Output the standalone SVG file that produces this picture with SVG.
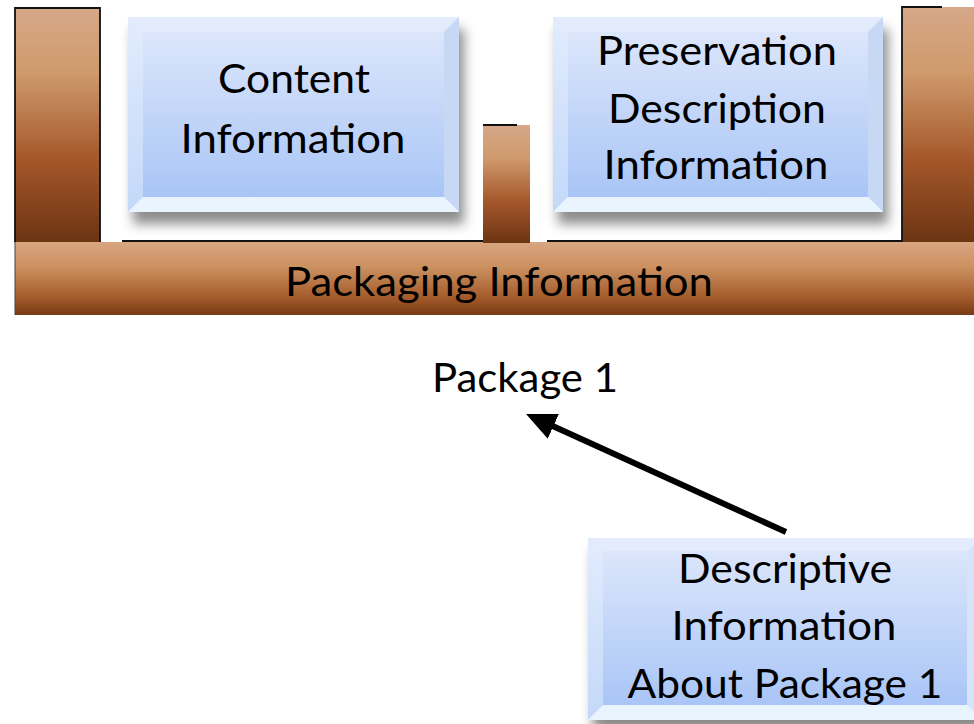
<svg xmlns="http://www.w3.org/2000/svg" width="974" height="724" viewBox="0 0 974 724">
<defs>
<style>
.t{font-family:Lato,"Open Sans","Liberation Sans",sans-serif;font-size:40px;fill:#000;text-anchor:middle}
.edge{stroke:#111;stroke-width:1.8;fill:none}
.pillar{fill:url(#pillarGrad)}
.face{fill:url(#faceGrad)}
.bt{fill:#E3EBFC}
.bl{fill:url(#leftGrad)}
.bb{fill:#EAF4FF}
.br{fill:#C7D8F5}
</style>
<linearGradient id="pillarGrad" x1="0" y1="0" x2="0" y2="1">
<stop offset="0" stop-color="#D6A889"/>
<stop offset="0.28" stop-color="#CF9A6C"/>
<stop offset="0.65" stop-color="#A4572A"/>
<stop offset="1" stop-color="#6C3413"/>
</linearGradient>
<linearGradient id="barGrad" x1="0" y1="0" x2="0" y2="1">
<stop offset="0" stop-color="#D9A682"/>
<stop offset="0.35" stop-color="#CB905F"/>
<stop offset="0.75" stop-color="#A55C2C"/>
<stop offset="1" stop-color="#783A15"/>
</linearGradient>
<linearGradient id="faceGrad" x1="0" y1="0" x2="0" y2="1">
<stop offset="0" stop-color="#DCE6FB"/>
<stop offset="1" stop-color="#A9C5F6"/>
</linearGradient>
<linearGradient id="leftGrad" x1="0" y1="0" x2="0" y2="1">
<stop offset="0" stop-color="#E2ECFD"/>
<stop offset="1" stop-color="#C3D8F9"/>
</linearGradient>
<filter id="shadow" x="-10%" y="-10%" width="130%" height="140%">
<feDropShadow dx="5" dy="12" stdDeviation="6" flood-color="#000" flood-opacity="0.45"/>
</filter>
<marker id="arrow" viewBox="0 -14 30 28" refX="5" refY="0" markerWidth="30" markerHeight="28" markerUnits="userSpaceOnUse" orient="auto">
<path d="M0,-13.5 L30,0 L0,13.5 z" fill="#000"/>
</marker>
</defs>
<rect width="974" height="724" fill="#fff"/>

<g id="packaging-information">
<rect x="15" y="242" width="960" height="73" fill="url(#barGrad)"/>
<line x1="15" y1="242" x2="15" y2="315" stroke="#444" stroke-width="1"/>
<line x1="122" y1="241" x2="483" y2="241" class="edge"/>
<line x1="547" y1="241" x2="902" y2="241" class="edge"/>
<text class="t" x="499" y="296" textLength="428" lengthAdjust="spacingAndGlyphs">Packaging Information</text>
</g>

<g id="left-pillar">
<rect x="15" y="8" width="85" height="234" class="pillar"/>
<path d="M15,242 V8 H100 V242" class="edge"/>
</g>

<g id="middle-pillar">
<rect x="483" y="125" width="47" height="118" class="pillar"/>
<line x1="483" y1="125" x2="517" y2="125" class="edge"/>
</g>

<g id="right-pillar">
<rect x="902" y="7" width="74" height="235" class="pillar"/>
<path d="M902,242 V7 H942" class="edge" stroke-width="2.2"/>
</g>

<g id="content-information">
<g filter="url(#shadow)">
<rect x="128" y="17" width="331" height="195" fill="#D6E3FB"/>
</g>
<polygon class="bt" points="128,17 459,17 444,32 143,32"/>
<polygon class="bl" points="128,17 143,32 143,197 128,212"/>
<polygon class="br" points="459,17 459,212 444,197 444,32"/>
<polygon class="bb" points="128,212 143,197 444,197 459,212"/>
<rect x="143" y="32" width="301" height="165" class="face"/>
<text class="t" x="294" y="93" textLength="152" lengthAdjust="spacingAndGlyphs">Content</text>
<text class="t" x="293" y="153" textLength="225" lengthAdjust="spacingAndGlyphs">Information</text>
</g>

<g id="preservation-description-information">
<g filter="url(#shadow)">
<rect x="553" y="17" width="330" height="195" fill="#D6E3FB"/>
</g>
<polygon class="bt" points="553,17 883,17 868,32 568,32"/>
<polygon class="bl" points="553,17 568,32 568,197 553,212"/>
<polygon class="br" points="883,17 883,212 868,197 868,32"/>
<polygon class="bb" points="553,212 568,197 868,197 883,212"/>
<rect x="568" y="32" width="300" height="165" class="face"/>
<text class="t" x="717" y="65" textLength="240" lengthAdjust="spacingAndGlyphs">Preservation</text>
<text class="t" x="717" y="123" textLength="218" lengthAdjust="spacingAndGlyphs">Description</text>
<text class="t" x="716" y="179" textLength="225" lengthAdjust="spacingAndGlyphs">Information</text>
</g>

<g id="package-1">
<text class="t" x="525" y="392" textLength="186" lengthAdjust="spacingAndGlyphs">Package 1</text>
</g>

<g id="descriptive-information">
<g filter="url(#shadow)">
<rect x="588" y="538" width="394" height="182" fill="#D6E3FB"/>
</g>
<polygon class="bt" points="588,538 982,538 967,551 603,551"/>
<polygon class="bl" points="588,538 603,551 603,705 588,720"/>
<polygon class="bb" points="588,720 603,705 967,705 982,720"/>
<rect x="603" y="551" width="364" height="154" class="face"/>
<text class="t" x="785" y="583" textLength="214" lengthAdjust="spacingAndGlyphs">Descriptive</text>
<text class="t" x="784" y="640" textLength="225" lengthAdjust="spacingAndGlyphs">Information</text>
<text class="t" x="785" y="698" textLength="315" lengthAdjust="spacingAndGlyphs">About Package 1</text>
</g>

<g id="connectors">
<line x1="786" y1="532" x2="548.8" y2="424.3" stroke="#000" stroke-width="6" marker-end="url(#arrow)"/>
</g>
</svg>
